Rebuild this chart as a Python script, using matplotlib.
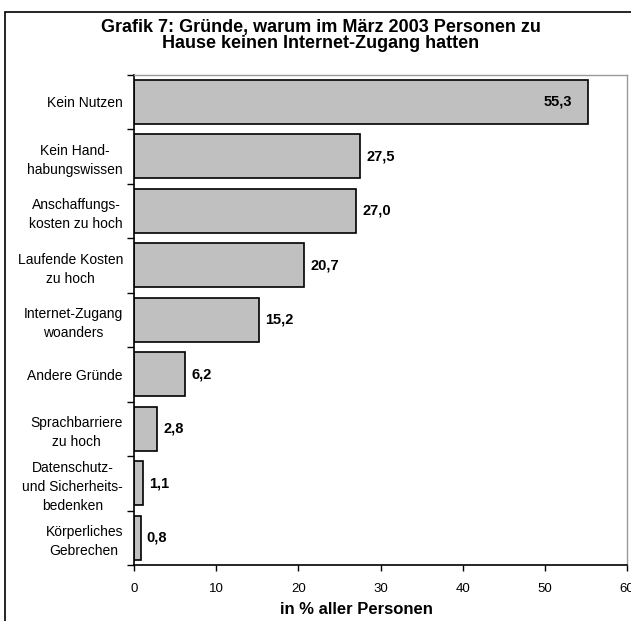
import matplotlib.pyplot as plt
from matplotlib.patches import Rectangle

plt.rcParams['font.family'] = ['Liberation Sans', 'DejaVu Sans']

# Werte aus der Grafik (in % aller Personen)
labels = ['Kein Nutzen', 'Kein Hand-\nhabungswissen', 'Anschaffungs-\nkosten zu hoch',
          'Laufende Kosten\nzu hoch', 'Internet-Zugang\nwoanders', 'Andere Gründe',
          'Sprachbarriere\nzu hoch', 'Datenschutz-\nund Sicherheits-\nbedenken',
          'Körperliches\nGebrechen']
values = [55.3, 27.5, 27.0, 20.7, 15.2, 6.2, 2.8, 1.1, 0.8]
xticks = [0, 10, 20, 30, 40, 50, 60]

fig = plt.figure(figsize=(6.31, 6.21), dpi=100)
ax = fig.add_axes([134 / 631, 1 - 565 / 621, 493 / 631, (565 - 74.5) / 621])

n = len(values)
ypos = list(range(n))[::-1]
ax.barh(ypos, values, height=0.8, color='#c0c0c0', edgecolor='black', linewidth=1.2)

for y, v in zip(ypos, values):
    txt = f'{v:.1f}'.replace('.', ',')
    if v > 50:
        ax.text(v - 2.0, y, txt, ha='right', va='center', fontsize=10.5, fontweight='bold')
    else:
        ax.text(v + 0.75, y, txt, ha='left', va='center', fontsize=10.5, fontweight='bold')

ax.set_xlim(0, 60)
ax.set_ylim(-0.5, n - 0.5)
ax.set_xticks(xticks)
ax.set_xticklabels([str(t) for t in xticks], fontsize=9.5)
ax.set_yticks(ypos)
ax.set_yticklabels(labels, fontsize=10, multialignment='center', linespacing=1.45)
ax.tick_params(axis='y', length=0, pad=8)
ax.set_yticks([i - 0.5 for i in range(n + 1)], minor=True)
ax.tick_params(axis='y', which='minor', length=5, width=1, direction='out')
ax.tick_params(axis='x', length=4, width=1, direction='out', pad=9)

for s in ['left', 'bottom']:
    ax.spines[s].set_color('black')
    ax.spines[s].set_linewidth(1.2)
for s in ['top', 'right']:
    ax.spines[s].set_color('#999999')
    ax.spines[s].set_linewidth(1)

fig.text(321 / 631, 1 - 31.7 / 621, 'Grafik 7: Gründe, warum im März 2003 Personen zu',
         ha='center', va='baseline', fontsize=13, fontweight='bold')
fig.text(321 / 631, 1 - 47.5 / 621, 'Hause keinen Internet-Zugang hatten',
         ha='center', va='baseline', fontsize=13, fontweight='bold')
fig.text(356 / 631, 1 - 610 / 621, 'in % aller Personen', ha='center', va='center',
         fontsize=12, fontweight='bold')

# Rahmen um das Diagramm
fig.patches.append(Rectangle((5 / 631, -0.1), 2, 1.1 - 11.7 / 621, transform=fig.transFigure,
                             fill=False, edgecolor='black', linewidth=1.2))

fig.savefig('out.png', dpi=100)
